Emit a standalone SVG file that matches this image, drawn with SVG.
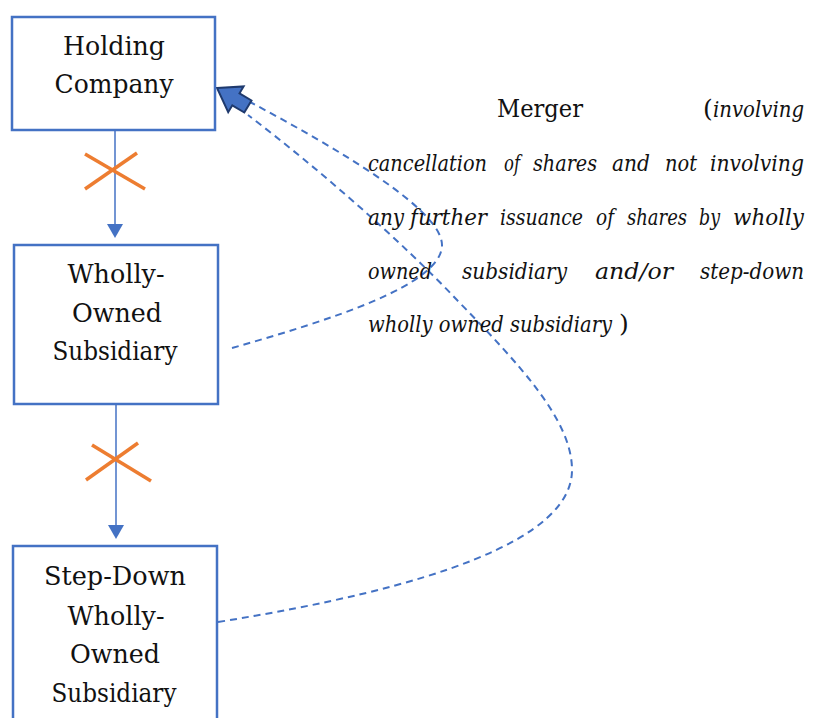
<svg xmlns="http://www.w3.org/2000/svg" width="814" height="718" viewBox="0 0 814 718">
  <style>
    .box { fill: #ffffff; stroke: #4472C4; stroke-width: 2.5; }
    .lbl { font-family: "DejaVu Serif", serif; font-size: 26px; fill: #111111; text-anchor: middle; }
    .note { font-family: "DejaVu Serif", serif; font-size: 22px; fill: #111111; }
    .up { font-size: 25px; }
    .it { font-style: italic; }
    .link { stroke: #4472C4; stroke-width: 1.5; fill: none; }
    .cross { stroke: #ED7D31; stroke-width: 3.5; stroke-linecap: butt; }
    .dash { stroke: #4472C4; stroke-width: 2; fill: none; stroke-dasharray: 7 5; }
  </style>
  <rect width="814" height="718" fill="#ffffff"/>

  <!-- connectors -->
  <g id="connectors">
    <line class="link" x1="115" y1="130" x2="115" y2="224"/>
    <path d="M107,224 L123,224 L115,238 Z" fill="#4472C4"/>
    <line class="link" x1="116" y1="404" x2="116" y2="525"/>
    <path d="M108,525 L124,525 L116,539 Z" fill="#4472C4"/>

    <g id="blocked-1">
      <line class="cross" x1="85" y1="154" x2="145" y2="189"/>
      <line class="cross" x1="137" y1="153" x2="85" y2="189"/>
    </g>
    <g id="blocked-2">
      <line class="cross" x1="92" y1="445" x2="151" y2="481"/>
      <line class="cross" x1="138" y1="443" x2="86" y2="480"/>
    </g>

    <path class="dash" d="M232,348 C330,320 442,285 442,245 C442,210 340,150 250,102"/>
    <path class="dash" d="M218,622 C430,588 572,540 572,470 C572,420 520,365 457,300 C400,240 320,170 248,115"/>
    <polygon points="217,88 243.6,86.4 239.5,93.3 251.5,100.5 244.3,112.5 232.3,105.3 228.2,112.2" fill="#4472C4" stroke="#1F3A6E" stroke-width="2" stroke-linejoin="miter"/>
  </g>

  <g id="holding-company">
    <rect class="box" x="12" y="17" width="203" height="113"/>
    <text class="lbl" x="114" y="55" textLength="102" lengthAdjust="spacingAndGlyphs">Holding</text>
    <text class="lbl" x="114" y="93" textLength="119" lengthAdjust="spacingAndGlyphs">Company</text>
  </g>

  <g id="wholly-owned-subsidiary">
    <rect class="box" x="14" y="245" width="204" height="159"/>
    <text class="lbl" x="116" y="283" textLength="97" lengthAdjust="spacingAndGlyphs">Wholly-</text>
    <text class="lbl" x="117" y="322" textLength="90" lengthAdjust="spacingAndGlyphs">Owned</text>
    <text class="lbl" x="115" y="360" textLength="125" lengthAdjust="spacingAndGlyphs">Subsidiary</text>
  </g>

  <g id="step-down-subsidiary">
    <rect class="box" x="13" y="546" width="204" height="190"/>
    <text class="lbl" x="115" y="585" textLength="142" lengthAdjust="spacingAndGlyphs">Step-Down</text>
    <text class="lbl" x="116" y="625" textLength="97" lengthAdjust="spacingAndGlyphs">Wholly-</text>
    <text class="lbl" x="115" y="663" textLength="90" lengthAdjust="spacingAndGlyphs">Owned</text>
    <text class="lbl" x="114" y="702" textLength="125" lengthAdjust="spacingAndGlyphs">Subsidiary</text>
  </g>

  <g id="merger-note" class="note">
    <text class="up" x="497" y="117" textLength="86" lengthAdjust="spacingAndGlyphs">Merger</text>
    <text class="up" x="703" y="117">(</text>
    <text class="it" x="713" y="117" textLength="91" lengthAdjust="spacingAndGlyphs">involving</text>

    <text class="it" x="368" y="171" textLength="119" lengthAdjust="spacingAndGlyphs">cancellation</text>
    <text class="it" x="504" y="171" textLength="16" lengthAdjust="spacingAndGlyphs">of</text>
    <text class="it" x="533" y="171" textLength="64" lengthAdjust="spacingAndGlyphs">shares</text>
    <text class="it" x="612" y="171" textLength="38" lengthAdjust="spacingAndGlyphs">and</text>
    <text class="it" x="665" y="171" textLength="32" lengthAdjust="spacingAndGlyphs">not</text>
    <text class="it" x="710" y="171" textLength="94" lengthAdjust="spacingAndGlyphs">involving</text>

    <text class="it" x="368" y="225" textLength="36" lengthAdjust="spacingAndGlyphs">any</text>
    <text class="it" x="410" y="225" textLength="77" lengthAdjust="spacingAndGlyphs">further</text>
    <text class="it" x="500" y="225" textLength="83" lengthAdjust="spacingAndGlyphs">issuance</text>
    <text class="it" x="596" y="225" textLength="18" lengthAdjust="spacingAndGlyphs">of</text>
    <text class="it" x="627" y="225" textLength="60" lengthAdjust="spacingAndGlyphs">shares</text>
    <text class="it" x="699" y="225" textLength="21" lengthAdjust="spacingAndGlyphs">by</text>
    <text class="it" x="733" y="225" textLength="71" lengthAdjust="spacingAndGlyphs">wholly</text>

    <text class="it" x="368" y="279" textLength="64" lengthAdjust="spacingAndGlyphs">owned</text>
    <text class="it" x="462" y="279" textLength="105" lengthAdjust="spacingAndGlyphs">subsidiary</text>
    <text class="it" x="595" y="279" textLength="78" lengthAdjust="spacingAndGlyphs">and/or</text>
    <text class="it" x="700" y="279" textLength="104" lengthAdjust="spacingAndGlyphs">step-down</text>

    <text class="it" x="368" y="332" textLength="244" lengthAdjust="spacingAndGlyphs">wholly owned subsidiary</text>
    <text class="up" x="619" y="332">)</text>
  </g>
</svg>
